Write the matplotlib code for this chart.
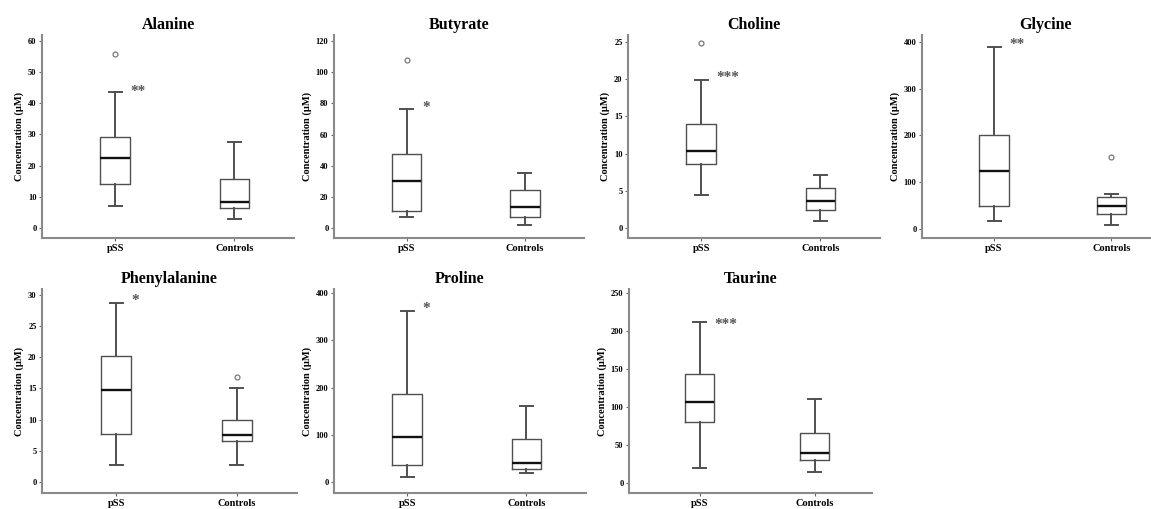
import matplotlib.pyplot as plt

plt.rcParams['font.family'] = ['Liberation Serif', 'DejaVu Serif']
plt.rcParams['font.weight'] = 'bold'

metabolites = ['Alanine', 'Butyrate', 'Choline', 'Glycine', 'Phenylalanine', 'Proline', 'Taurine']
groups = ['pSS', 'Controls']

# whisker low, Q1, median, Q3, whisker high
pss_stats = [
    [7.0, 14.1, 22.6, 29.2, 43.5],
    [7.0, 10.9, 30.5, 47.5, 76.4],
    [4.5, 8.6, 10.3, 14.0, 19.9],
    [18.0, 50.0, 125.0, 202.0, 389.0],
    [2.8, 7.7, 14.7, 20.2, 28.7],
    [10.0, 36.0, 96.0, 187.0, 363.0],
    [19.5, 80.0, 106.0, 143.0, 212.0],
]
ctrl_stats = [
    [2.8, 6.5, 8.2, 15.6, 27.7],
    [2.1, 7.4, 13.5, 24.8, 35.3],
    [1.0, 2.4, 3.6, 5.4, 7.2],
    [9.0, 32.0, 50.0, 69.5, 76.0],
    [2.8, 6.5, 7.6, 10.0, 15.0],
    [20.0, 27.5, 40.0, 91.5, 161.0],
    [14.0, 30.5, 39.0, 66.0, 110.5],
]
pss_outliers = [[55.7], [107.6], [24.8], [], [], [], []]
ctrl_outliers = [[], [], [], [154.0], [16.8], [], []]

stars = ['**', '*', '***', '**', '*', '*', '***']
star_y = [45, 80, 20.8, 403, 29.7, 377, 213.7]

y_ticks = [
    [0, 10, 20, 30, 40, 50, 60],
    [0, 20, 40, 60, 80, 100, 120],
    [0, 5, 10, 15, 20, 25],
    [0, 100, 200, 300, 400],
    [0, 5, 10, 15, 20, 25, 30],
    [0, 100, 200, 300, 400],
    [0, 50, 100, 150, 200, 250],
]
y_limits = [(-3.2, 61.9), (-6.2, 123.8), (-1.3, 25.9), (-18.5, 414),
            (-1.76, 30.9), (-23.4, 409), (-13, 255)]

# panel layout in pixels: left, top, width, height
W, H = 1151, 509
panels = [
    (42, 35, 252, 203), (334, 35, 250, 203), (628, 35, 252, 203), (922, 35, 248, 203),
    (42, 289, 255, 204), (334, 289, 252, 204), (629, 289, 243, 204),
]

fig = plt.figure(figsize=(W / 100, H / 100), dpi=100)

box_col = '#505050'
for i, name in enumerate(metabolites):
    l, t, w, h = panels[i]
    ax = fig.add_axes([l / W, 1 - (t + h) / H, w / W, h / H])
    stats = []
    for s, fl, lab in [(pss_stats[i], pss_outliers[i], groups[0]),
                       (ctrl_stats[i], ctrl_outliers[i], groups[1])]:
        stats.append(dict(whislo=s[0], q1=s[1], med=s[2], q3=s[3], whishi=s[4],
                          fliers=fl, label=lab))
    ax.bxp(stats, positions=[1, 2], widths=0.25, capwidths=0.11,
           boxprops=dict(color=box_col, linewidth=1.0),
           whiskerprops=dict(color=box_col, linewidth=1.4),
           capprops=dict(color=box_col, linewidth=1.4),
           medianprops=dict(color='#111111', linewidth=1.7),
           flierprops=dict(marker='o', markersize=3.5, markerfacecolor='none',
                           markeredgecolor='#777777', markeredgewidth=0.9))
    ax.set_xlim(0.385, 2.5)
    ax.set_ylim(*y_limits[i])
    ax.set_yticks(y_ticks[i])
    ax.tick_params(axis='y', labelsize=6, length=2, width=0.8, pad=2, color='#666666')
    ax.tick_params(axis='x', labelsize=7.5, length=2, width=0.8, pad=2.5, color='#666666')
    for sp in ['top', 'right']:
        ax.spines[sp].set_visible(False)
    for sp in ['left', 'bottom']:
        ax.spines[sp].set_color('#8a8a8a')
        ax.spines[sp].set_linewidth(1.5)
    ax.set_ylabel('Concentration (μM)', fontsize=7.5, fontweight='bold', labelpad=3)
    ax.set_title(name, fontsize=11.5, fontweight='bold', pad=4)
    ax.annotate(stars[i], (1.13, star_y[i]), xytext=(0, -3), textcoords='offset points',
                fontsize=11, fontweight='bold', color='#555555', ha='left', va='center')

fig.savefig('out.png', dpi=100)
